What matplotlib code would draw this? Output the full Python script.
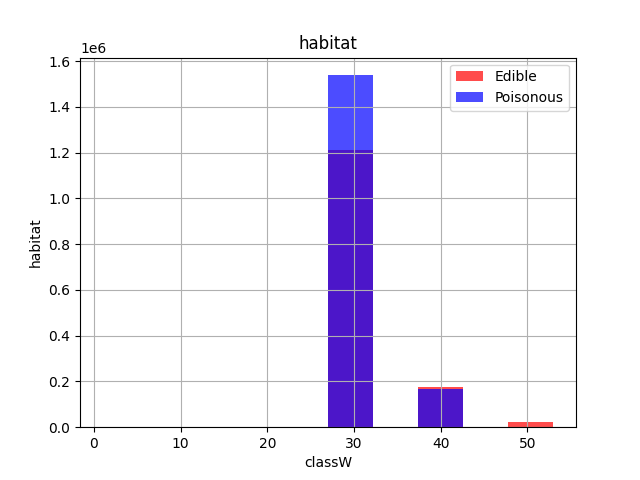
import numpy as np
import matplotlib
matplotlib.use("Agg")
from matplotlib import pyplot as plt

# habitat codes and counts
habitat_values = [30, 40, 50]
edible_counts = [1211000, 174000, 22000]
poisonous_counts = [1539000, 166000, 0]

# histogram settings (10 bins over the data range)
n_bins = 10
data_range = (1, 53)

fig, ax = plt.subplots(figsize=(6.4, 4.8), dpi=100)
ax.hist(habitat_values, bins=n_bins, range=data_range, weights=edible_counts,
        color='red', alpha=0.7, label='Edible')
ax.hist(habitat_values, bins=n_bins, range=data_range, weights=poisonous_counts,
        color='blue', alpha=0.7, label='Poisonous')
ax.set_title('habitat')
ax.set_xlabel('classW')
ax.set_ylabel('habitat')
ax.grid(True)
ax.legend(loc='upper right')

fig.savefig('out.png')
